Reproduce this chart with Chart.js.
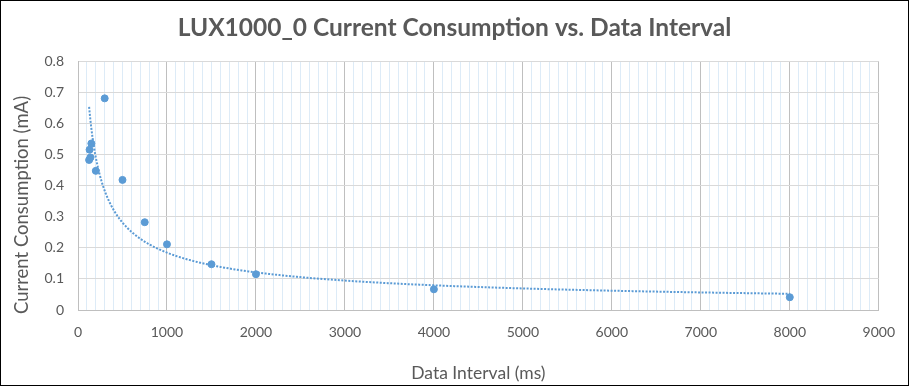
<!DOCTYPE html>
<html>
<head>
<meta charset="utf-8">
<script src="https://cdn.jsdelivr.net/npm/chart.js"></script>
<style>
  html, body { margin: 0; padding: 0; background: #fff; }
  #wrap { width: 909px; height: 386px; position: relative; }
</style>
</head>
<body>
<div id="wrap"><canvas id="chart" width="909" height="386"></canvas></div>
<script>
// Measured data: data interval (ms) vs current consumption (mA)
const intervals = [125, 130, 140, 150, 200, 300, 500, 750, 1000, 1500, 2000, 4000, 8000];
const currents = [0.482, 0.515, 0.49, 0.535, 0.447, 0.68, 0.418, 0.282, 0.211, 0.147, 0.115, 0.0665, 0.041];

const chartTitle = 'LUX1000_0 Current Consumption vs. Data Interval';
const xTitle = 'Data Interval (ms)';
const yTitle = 'Current Consumption (mA)';

const BLUE = '#5B9BD5';
const TEXT = '#595959';

const points = intervals.map((x, i) => ({ x, y: currents[i] }));

// Power trendline (y = a * x^b), least squares in log-log space, like the spreadsheet does
function powerTrend(xs, ys, steps) {
  const lx = xs.map(Math.log), ly = ys.map(Math.log);
  const n = xs.length;
  const mx = lx.reduce((s, v) => s + v, 0) / n;
  const my = ly.reduce((s, v) => s + v, 0) / n;
  let sxy = 0, sxx = 0;
  for (let i = 0; i < n; i++) {
    sxy += (lx[i] - mx) * (ly[i] - my);
    sxx += (lx[i] - mx) * (lx[i] - mx);
  }
  const b = sxy / sxx;
  const a = Math.exp(my - b * mx);
  const x0 = Math.min(...xs), x1 = Math.max(...xs);
  const out = [];
  for (let k = 0; k <= steps; k++) {
    const x = x0 * Math.pow(x1 / x0, k / steps);
    out.push({ x, y: a * Math.pow(x, b) });
  }
  return out;
}
const trend = powerTrend(intervals, currents, 300);

// chart title centred on the whole canvas, y title, and the outer frame
const decor = {
  id: 'decor',
  afterDraw(chart) {
    const c = chart.ctx;
    c.save();
    c.fillStyle = TEXT;
    c.textAlign = 'center';
    c.textBaseline = 'middle';
    c.font = 'bold 24.5px Lato';
    c.fillText(chartTitle, chart.width / 2, 28);

    c.font = '18.5px Lato';
    c.translate(22, 205);
    c.rotate(-Math.PI / 2);
    c.fillText(yTitle, 0, 0);
    c.restore();

    c.save();
    c.strokeStyle = '#000';
    c.lineWidth = 1;
    c.strokeRect(0.5, 0.5, chart.width - 1, chart.height - 1);
    c.restore();
  }
};

new Chart(document.getElementById('chart'), {
  type: 'scatter',
  data: {
    datasets: [
      {
        label: 'Current',
        data: points,
        backgroundColor: BLUE,
        borderColor: BLUE,
        pointRadius: 3.5,
        pointHoverRadius: 3.5,
      },
      {
        label: 'Power trend',
        data: trend,
        showLine: true,
        borderColor: BLUE,
        borderWidth: 2,
        borderDash: [2, 1.5],
        pointRadius: 0,
        fill: false,
      },
    ],
  },
  options: {
    responsive: false,
    animation: false,
    events: [],
    layout: { padding: { left: 0, right: 30, top: 61, bottom: 0 } },
    plugins: {
      legend: { display: false },
      tooltip: { enabled: false },
      title: { display: false },
    },
    scales: {
      x: {
        type: 'linear',
        min: 0,
        max: 9000,
        afterFit(scale) { scale.height = 76; },
        ticks: {
          stepSize: 100,
          autoSkip: false,
          maxRotation: 0,
          padding: 14,
          color: TEXT,
          font: { family: 'Lato', size: 14 },
          callback: v => (v % 1000 === 0 ? String(v) : ''),
        },
        grid: {
          drawTicks: false,
          color: ctx => (ctx.tick && ctx.tick.value % 1000 === 0 ? '#BFBFBF' : '#DDEBF7'),
        },
        border: { color: '#BFBFBF' },
        title: {
          display: true,
          text: xTitle,
          color: TEXT,
          font: { family: 'Lato', size: 17.5 },
          padding: { top: 0, bottom: 2 },
        },
      },
      y: {
        min: 0,
        max: 0.8,
        afterFit(scale) { scale.width = 78; },
        ticks: {
          stepSize: 0.1,
          padding: 14,
          color: TEXT,
          font: { family: 'Lato', size: 14 },
          callback: v => String(Math.round(v * 10) / 10),
        },
        grid: { drawTicks: false, color: '#D9D9D9' },
        border: { color: '#BFBFBF' },
        title: { display: false },
      },
    },
  },
  plugins: [decor],
});
</script>
</body>
</html>
